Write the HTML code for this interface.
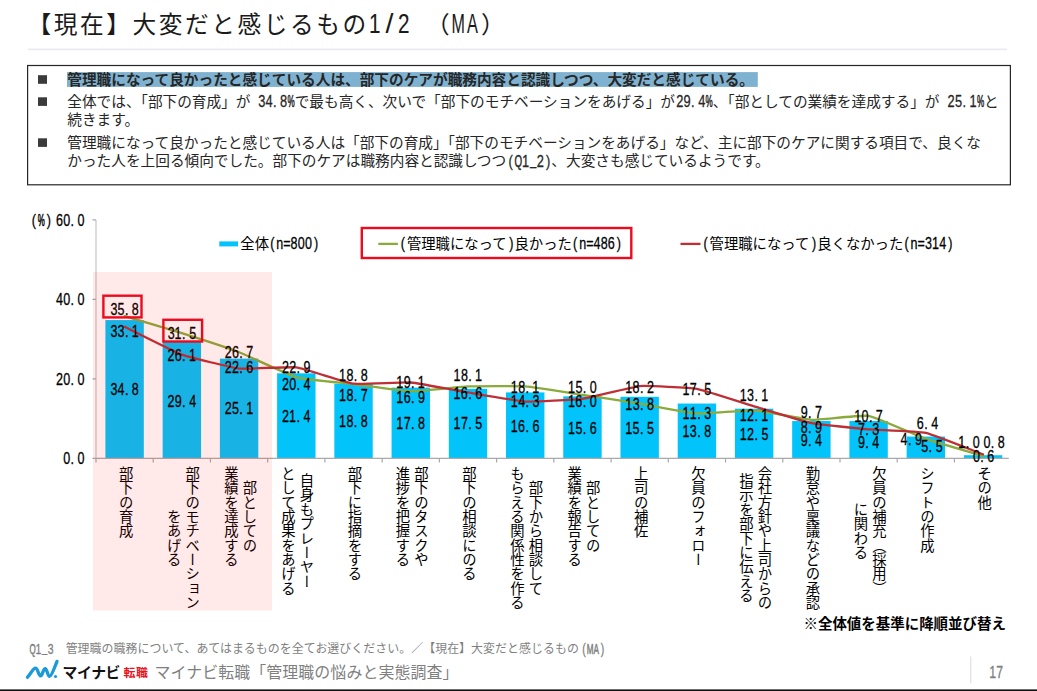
<!DOCTYPE html>
<html lang="ja"><head><meta charset="utf-8"><title>【現在】大変だと感じるもの1/2 (MA)</title>
<style>
html,body{margin:0;padding:0;background:#fff;}
body{width:1037px;height:691px;overflow:hidden;font-family:"Liberation Sans",sans-serif;}
svg{display:block;font-family:"Liberation Sans",sans-serif;}
text{white-space:pre;vector-effect:non-scaling-stroke;stroke-linejoin:round;}
.j{font-family:"Liberation Sans","Noto Sans CJK JP",sans-serif;}
.v{font-family:"Liberation Sans","Noto Sans CJK JP",sans-serif;writing-mode:vertical-rl;font-size:14.35px;fill:#000;}
</style></head><body>
<svg width="1037" height="691" viewBox="0 0 1037 691">
<g id="slide-title"><title>【現在】大変だと感じるもの1/2 （MA）</title>
<g>
<text transform="translate(368.92 33.21) scale(0.76 1)" font-size="27.25" fill="#1a1a1a" stroke="#1a1a1a" stroke-width="0.08" x="0">1</text>
<text transform="translate(385.42 33.21) scale(1.05 1)" font-size="27.25" fill="#1a1a1a" stroke="#1a1a1a" stroke-width="0.05" x="0">/</text>
<text transform="translate(398.06 33.21) scale(0.76 1)" font-size="27.25" fill="#1a1a1a" stroke="#1a1a1a" stroke-width="0.08" x="0">2</text>
<text class="j" x="27.4" y="32.5" font-size="23.7" letter-spacing="2.58" fill="#1a1a1a">【現在】大変だと感じるもの</text>
</g>
<g>
<text transform="translate(451.4 33.21) scale(0.59 1)" font-size="27.25" fill="#1a1a1a" stroke="#1a1a1a" stroke-width="0.08" x="0">M</text>
<text transform="translate(467.11 33.21) scale(0.6 1)" font-size="27.25" fill="#1a1a1a" stroke="#1a1a1a" stroke-width="0.08" x="0">A</text>
<text class="j" x="425.9" y="32.5" font-size="23.7" fill="#1a1a1a">（</text>
<text class="j" x="481.04" y="32.5" font-size="23.7" fill="#1a1a1a">）</text>
</g>
</g>
<rect x="28" y="48.6" width="979" height="1.6" fill="#e9e9ef"/>
<rect x="27.6" y="65.5" width="982.8" height="119.3" fill="#fff" stroke="#262626" stroke-width="1.2"/>
<rect x="67" y="72.1" width="690.8" height="14.8" fill="#7fb2d0"/>
<g><title>管理職になって良かったと感じている人は、部下のケアが職務内容と認識しつつ、大変だと感じている。</title>
<text class="j" x="67.3" y="85" font-size="14.67" font-weight="bold" fill="#262626">管理職になって良かったと感じている人は、部下のケアが職務内容と認識しつつ、大変だと感じている。</text>
</g>
<g><title>全体では、「部下の育成」が34.8%で最も高く、次いで「部下のモチベーションをあげる」が29.4%、「部としての業績を達成する」が25.1%と</title>
<text transform="translate(258.15 107.24) scale(0.76 1)" font-size="16.87" fill="#262626" stroke="#262626" stroke-width="0.26" x="0 9.66 19.51 28.9">34.8</text>
<text transform="translate(287.39 107.24) scale(0.48 1)" font-size="16.87" fill="#262626" stroke="#262626" stroke-width="0.44" x="0">%</text>
<text transform="translate(676.21 107.24) scale(0.76 1)" font-size="16.87" fill="#262626" stroke="#262626" stroke-width="0.26" x="0 9.66 19.56 29.01">29.4</text>
<text transform="translate(705.48 107.24) scale(0.48 1)" font-size="16.87" fill="#262626" stroke="#262626" stroke-width="0.44" x="0">%</text>
<text transform="translate(947.6 107.24) scale(0.76 1)" font-size="16.87" fill="#262626" stroke="#262626" stroke-width="0.26" x="0 9.67 19.56 28.72">25.1</text>
<text transform="translate(976.88 107.24) scale(0.48 1)" font-size="16.87" fill="#262626" stroke="#262626" stroke-width="0.44" x="0">%</text>
<text class="j" x="67.3" y="106.8" font-size="14.67" fill="#262626">全体では、「部下の育成」が</text>
<text class="j" x="294.67" y="106.8" font-size="14.67" fill="#262626">で最も高く、次いで「部下のモチベーションをあげる」が</text>
<text class="j" x="712.73" y="106.8" font-size="14.67" fill="#262626">、「部としての業績を達成する」が</text>
<text class="j" x="984.1" y="106.8" font-size="14.67" fill="#262626">と</text>
</g>
<g><title>続きます。</title>
<text class="j" x="67.3" y="125.2" font-size="14.67" fill="#262626">続きます。</text>
</g>
<g><title>管理職になって良かったと感じている人は「部下の育成」「部下のモチベーションをあげる」など、主に部下のケアに関する項目で、良くな</title>
<text class="j" x="67.3" y="148.1" font-size="14.67" fill="#262626">管理職になって良かったと感じている人は「部下の育成」「部下のモチベーションをあげる」など、主に部下のケアに関する項目で、良くな</text>
</g>
<g><title>かった人を上回る傾向でした。部下のケアは職務内容と認識しつつ(Q1_2)、大変さも感じているようです。</title>
<text transform="translate(508.57 166.84) scale(0.76 1)" font-size="16.87" fill="#262626" stroke="#262626" stroke-width="0.26" x="0">(</text>
<text transform="translate(514.6 166.84) scale(0.58 1)" font-size="16.87" fill="#262626" stroke="#262626" stroke-width="0.44" x="0">Q</text>
<text transform="translate(522 166.84) scale(0.76 1)" font-size="16.87" fill="#262626" stroke="#262626" stroke-width="0.26" x="0">1</text>
<text transform="translate(529.91 166.84) scale(0.68 1)" font-size="16.87" fill="#262626" stroke="#262626" stroke-width="0.26" x="0" y="-1.91">_</text>
<text transform="translate(536.84 166.84) scale(0.76 1)" font-size="16.87" fill="#262626" stroke="#262626" stroke-width="0.26" x="0 12.01">2)</text>
<text class="j" x="67.3" y="166.4" font-size="14.67" fill="#262626">かった人を上回る傾向でした。部下のケアは職務内容と認識しつつ</text>
<text class="j" x="551.37" y="166.4" font-size="14.67" fill="#262626">、大変さも感じているようです。</text>
</g>
<rect x="38" y="75.2" width="9" height="8.6" fill="#3b3b3b"/>
<rect x="38" y="97.3" width="9" height="8.6" fill="#3b3b3b"/>
<rect x="38" y="138.3" width="9" height="8.6" fill="#3b3b3b"/>
<g fill="#03c4fa">
<rect x="105.41" y="320.07" width="38.4" height="138.33"/>
<rect x="162.65" y="341.53" width="38.4" height="116.87"/>
<rect x="219.88" y="358.63" width="38.4" height="99.77"/>
<rect x="277.1" y="373.33" width="38.4" height="85.06"/>
<rect x="334.33" y="383.67" width="38.4" height="74.73"/>
<rect x="391.56" y="387.64" width="38.4" height="70.75"/>
<rect x="448.8" y="388.84" width="38.4" height="69.56"/>
<rect x="506.02" y="392.41" width="38.4" height="65.99"/>
<rect x="563.25" y="396.39" width="38.4" height="62.01"/>
<rect x="620.48" y="396.79" width="38.4" height="61.61"/>
<rect x="677.71" y="403.54" width="38.4" height="54.86"/>
<rect x="734.94" y="408.71" width="38.4" height="49.69"/>
<rect x="792.17" y="421.03" width="38.4" height="37.37"/>
<rect x="849.4" y="421.03" width="38.4" height="37.37"/>
<rect x="906.63" y="436.54" width="38.4" height="21.86"/>
<rect x="963.86" y="455.22" width="38.4" height="3.18"/>
</g>
<g stroke="#a9a9a9" stroke-width="1.2" fill="none">
<path d="M96 219.9V458.4" stroke="#c4c4c4"/>
<path d="M96 458.4H1008.8"/>
<path d="M92.4 458.4h3.6M92.4 378.9h3.6M92.4 299.4h3.6M92.4 219.9h3.6M96 458.4v4.2M153.23 458.4v4.2M210.46 458.4v4.2M267.69 458.4v4.2M324.92 458.4v4.2M382.15 458.4v4.2M439.38 458.4v4.2M496.61 458.4v4.2M553.84 458.4v4.2M611.07 458.4v4.2M668.3 458.4v4.2M725.53 458.4v4.2M782.76 458.4v4.2M839.99 458.4v4.2M897.22 458.4v4.2M954.45 458.4v4.2"/>
</g>
<path d="M124.61 316.1C127.95 317.09 175.17 331.08 181.84 333.19C188.52 335.3 232.4 349.69 239.07 352.27C245.75 354.84 289.63 375.45 296.3 377.31C302.98 379.17 346.86 383.26 353.53 384.07C360.21 384.88 404.09 391.08 410.76 391.22C417.44 391.36 461.32 386.73 468 386.45C474.67 386.17 518.55 385.97 525.22 386.45C531.9 386.94 575.78 393.8 582.45 394.8C589.13 395.8 633.01 402.46 639.68 403.54C646.36 404.63 690.24 413.09 696.91 413.48C703.59 413.88 747.47 409.93 754.14 410.3C760.82 410.67 804.7 419.52 811.38 419.84C818.05 420.17 861.93 414.75 868.6 415.87C875.28 416.98 919.16 436.58 925.83 438.92C932.51 441.26 979.73 455.02 983.06 456.01" fill="none" stroke="#8aab3c" stroke-width="2.3" stroke-linecap="round"/>
<path d="M124.61 326.83C127.95 328.45 175.17 352.22 181.84 354.65C188.52 357.09 232.4 367.82 239.07 368.56C245.75 369.31 289.63 366.49 296.3 367.37C302.98 368.25 346.86 382.79 353.53 383.67C360.21 384.55 404.09 381.97 410.76 382.48C417.44 382.99 461.32 391.3 468 392.41C474.67 393.53 518.55 401.19 525.22 401.56C531.9 401.93 575.78 399.68 582.45 398.77C589.13 397.87 633.01 386.63 639.68 386.05C646.36 385.48 690.24 387.65 696.91 388.84C703.59 390.02 747.47 404.33 754.14 406.33C760.82 408.32 804.7 421.68 811.38 423.02C818.05 424.37 861.93 428.8 868.6 429.38C875.28 429.96 919.16 431.5 925.83 432.96C932.51 434.42 979.73 453.17 983.06 454.42" fill="none" stroke="#be2f35" stroke-width="2.3" stroke-linecap="round"/>
<g font-family="'Liberation Sans',sans-serif">
<text transform="translate(110.4 395.28) scale(0.76 1)" font-size="16.5" fill="#000" stroke="#000" stroke-width="0.26" x="0 9.44 19.08 28.27">34.8</text>
<text transform="translate(110.4 315.48) scale(0.76 1)" font-size="16.5" fill="#000" stroke="#000" stroke-width="0.26" x="0 9.41 19.08 28.27">35.8</text>
<text transform="translate(110.4 337.48) scale(0.76 1)" font-size="16.5" fill="#000" stroke="#000" stroke-width="0.26" x="0 9.44 19.08 28.05">33.1</text>
<text transform="translate(167.59 406.88) scale(0.76 1)" font-size="16.5" fill="#000" stroke="#000" stroke-width="0.26" x="0 9.44 19.13 28.37">29.4</text>
<text transform="translate(167.63 339.48) scale(0.76 1)" font-size="16.5" fill="#000" stroke="#000" stroke-width="0.26" x="0 9.17 19.08 28.29">31.5</text>
<text transform="translate(167.59 361.38) scale(0.76 1)" font-size="16.5" fill="#000" stroke="#000" stroke-width="0.26" x="0 9.38 19.13 28.1">26.1</text>
<text transform="translate(224.82 414.38) scale(0.76 1)" font-size="16.5" fill="#000" stroke="#000" stroke-width="0.26" x="0 9.46 19.13 28.1">25.1</text>
<text transform="translate(224.82 358.08) scale(0.76 1)" font-size="16.5" fill="#000" stroke="#000" stroke-width="0.26" x="0 9.38 19.13 28.31">26.7</text>
<text transform="translate(224.82 372.68) scale(0.76 1)" font-size="16.5" fill="#000" stroke="#000" stroke-width="0.26" x="0 9.44 19.13 28.27">22.6</text>
<text transform="translate(282.05 422.38) scale(0.76 1)" font-size="16.5" fill="#000" stroke="#000" stroke-width="0.26" x="0 9.22 19.13 28.37">21.4</text>
<text transform="translate(282.05 389.78) scale(0.76 1)" font-size="16.5" fill="#000" stroke="#000" stroke-width="0.26" x="0 9.44 19.13 28.37">20.4</text>
<text transform="translate(282.05 372.98) scale(0.76 1)" font-size="16.5" fill="#000" stroke="#000" stroke-width="0.26" x="0 9.44 19.13 28.33">22.9</text>
<text transform="translate(339.11 427.38) scale(0.76 1)" font-size="16.5" fill="#000" stroke="#000" stroke-width="0.26" x="0 9.67 19.36 28.55">18.8</text>
<text transform="translate(339.11 401.08) scale(0.76 1)" font-size="16.5" fill="#000" stroke="#000" stroke-width="0.26" x="0 9.67 19.36 28.54">18.7</text>
<text transform="translate(339.11 380.98) scale(0.76 1)" font-size="16.5" fill="#000" stroke="#000" stroke-width="0.26" x="0 9.67 19.36 28.55">18.8</text>
<text transform="translate(396.34 429.38) scale(0.76 1)" font-size="16.5" fill="#000" stroke="#000" stroke-width="0.26" x="0 9.66 19.36 28.55">17.8</text>
<text transform="translate(396.34 403.08) scale(0.76 1)" font-size="16.5" fill="#000" stroke="#000" stroke-width="0.26" x="0 9.61 19.36 28.55">16.9</text>
<text transform="translate(396.34 387.98) scale(0.76 1)" font-size="16.5" fill="#000" stroke="#000" stroke-width="0.26" x="0 9.67 19.36 28.32">19.1</text>
<text transform="translate(453.57 429.38) scale(0.76 1)" font-size="16.5" fill="#000" stroke="#000" stroke-width="0.26" x="0 9.66 19.36 28.56">17.5</text>
<text transform="translate(453.57 380.98) scale(0.76 1)" font-size="16.5" fill="#000" stroke="#000" stroke-width="0.26" x="0 9.67 19.36 28.32">18.1</text>
<text transform="translate(453.57 398.58) scale(0.76 1)" font-size="16.5" fill="#000" stroke="#000" stroke-width="0.26" x="0 9.61 19.36 28.49">16.6</text>
<text transform="translate(510.8 432.38) scale(0.76 1)" font-size="16.5" fill="#000" stroke="#000" stroke-width="0.26" x="0 9.61 19.36 28.49">16.6</text>
<text transform="translate(510.8 392.78) scale(0.76 1)" font-size="16.5" fill="#000" stroke="#000" stroke-width="0.26" x="0 9.67 19.36 28.32">18.1</text>
<text transform="translate(510.8 407.28) scale(0.76 1)" font-size="16.5" fill="#000" stroke="#000" stroke-width="0.26" x="0 9.72 19.36 28.6">14.3</text>
<text transform="translate(568.03 433.68) scale(0.76 1)" font-size="16.5" fill="#000" stroke="#000" stroke-width="0.26" x="0 9.68 19.36 28.49">15.6</text>
<text transform="translate(568.03 407.28) scale(0.76 1)" font-size="16.5" fill="#000" stroke="#000" stroke-width="0.26" x="0 9.61 19.36 28.55">16.0</text>
<text transform="translate(568.03 392.78) scale(0.76 1)" font-size="16.5" fill="#000" stroke="#000" stroke-width="0.26" x="0 9.68 19.36 28.55">15.0</text>
<text transform="translate(625.26 433.68) scale(0.76 1)" font-size="16.5" fill="#000" stroke="#000" stroke-width="0.26" x="0 9.68 19.36 28.56">15.5</text>
<text transform="translate(625.26 409.78) scale(0.76 1)" font-size="16.5" fill="#000" stroke="#000" stroke-width="0.26" x="0 9.71 19.36 28.55">13.8</text>
<text transform="translate(625.26 392.78) scale(0.76 1)" font-size="16.5" fill="#000" stroke="#000" stroke-width="0.26" x="0 9.67 19.36 28.55">18.2</text>
<text transform="translate(682.49 437.38) scale(0.76 1)" font-size="16.5" fill="#000" stroke="#000" stroke-width="0.26" x="0 9.71 19.36 28.55">13.8</text>
<text transform="translate(682.49 419.38) scale(0.76 1)" font-size="16.5" fill="#000" stroke="#000" stroke-width="0.26" x="0 9.44 19.36 28.6">11.3</text>
<text transform="translate(682.49 395.28) scale(0.76 1)" font-size="16.5" fill="#000" stroke="#000" stroke-width="0.26" x="0 9.66 19.36 28.56">17.5</text>
<text transform="translate(739.72 439.98) scale(0.76 1)" font-size="16.5" fill="#000" stroke="#000" stroke-width="0.26" x="0 9.67 19.36 28.56">12.5</text>
<text transform="translate(739.72 421.38) scale(0.76 1)" font-size="16.5" fill="#000" stroke="#000" stroke-width="0.26" x="0 9.67 19.36 28.32">12.1</text>
<text transform="translate(739.72 401.28) scale(0.76 1)" font-size="16.5" fill="#000" stroke="#000" stroke-width="0.26" x="0 9.71 19.36 28.32">13.1</text>
<text transform="translate(800.72 446.48) scale(0.76 1)" font-size="16.5" fill="#000" stroke="#000" stroke-width="0.26" x="0 9.69 18.93">9.4</text>
<text transform="translate(800.72 417.78) scale(0.76 1)" font-size="16.5" fill="#000" stroke="#000" stroke-width="0.26" x="0 9.69 18.87">9.7</text>
<text transform="translate(800.71 432.58) scale(0.76 1)" font-size="16.5" fill="#000" stroke="#000" stroke-width="0.26" x="0 9.69 18.89">8.9</text>
<text transform="translate(857.95 447.98) scale(0.76 1)" font-size="16.5" fill="#000" stroke="#000" stroke-width="0.26" x="0 9.69 18.93">9.4</text>
<text transform="translate(854.18 422.28) scale(0.76 1)" font-size="16.5" fill="#000" stroke="#000" stroke-width="0.26" x="0 9.67 19.36 28.54">10.7</text>
<text transform="translate(857.94 434.68) scale(0.76 1)" font-size="16.5" fill="#000" stroke="#000" stroke-width="0.26" x="0 9.7 18.94">7.3</text>
<text transform="translate(921.28 451.78) scale(0.76 1)" font-size="16.5" fill="#000" stroke="#000" stroke-width="0.26" x="0 9.67 18.88">5.5</text>
<text transform="translate(900.61 445.28) scale(0.76 1)" font-size="16.5" fill="#000" stroke="#000" stroke-width="0.26" x="0 9.64 18.83">4.9</text>
<text transform="translate(916.73 428.98) scale(0.76 1)" font-size="16.5" fill="#000" stroke="#000" stroke-width="0.26" x="0 9.75 18.99">6.4</text>
<text transform="translate(983.4 448.18) scale(0.76 1)" font-size="16.5" fill="#000" stroke="#000" stroke-width="0.26" x="0 9.69 18.88">0.8</text>
<text transform="translate(973 462.48) scale(0.76 1)" font-size="16.5" fill="#000" stroke="#000" stroke-width="0.26" x="0 9.69 18.83">0.6</text>
<text transform="translate(958.33 448.48) scale(0.76 1)" font-size="16.5" fill="#000" stroke="#000" stroke-width="0.26" x="0 9.92 19.11">1.0</text>
<text transform="translate(63.17 464.28) scale(0.76 1)" font-size="16.5" fill="#000" stroke="#000" stroke-width="0.26" x="0 9.69 18.88">0.0</text>
<text transform="translate(56 384.78) scale(0.76 1)" font-size="16.5" fill="#000" stroke="#000" stroke-width="0.26" x="0 9.44 19.13 28.32">20.0</text>
<text transform="translate(56.04 305.28) scale(0.76 1)" font-size="16.5" fill="#000" stroke="#000" stroke-width="0.26" x="0 9.39 19.08 28.27">40.0</text>
<text transform="translate(55.96 225.78) scale(0.76 1)" font-size="16.5" fill="#000" stroke="#000" stroke-width="0.26" x="0 9.5 19.19 28.38">60.0</text>
<text transform="translate(31.75 225.78) scale(0.76 1)" font-size="16.5" fill="#000" stroke="#000" stroke-width="0.26" x="0">(</text>
<text transform="translate(37.81 225.78) scale(0.48 1)" font-size="16.5" fill="#000" stroke="#000" stroke-width="0.44" x="0">%</text>
<text transform="translate(46.8 225.78) scale(0.76 1)" font-size="16.5" fill="#000" stroke="#000" stroke-width="0.26" x="0">)</text>
</g>
<g><title>部下の育成</title>
<text class="v" x="124.62" y="466.3">部下の育成</text>
</g>
<g><title>部下のモチベーションをあげる</title>
<text class="v" x="191.1" y="466.3">部下のモチベーション</text>
<text class="v" x="172.6" y="509.4">をあげる</text>
</g>
<g><title>部としての業績を達成する</title>
<text class="v" x="248.33" y="480.7">部としての</text>
<text class="v" x="229.83" y="466.3">業績を達成する</text>
</g>
<g><title>自身もプレーヤーとして成果をあげる</title>
<text class="v" x="305.56" y="473.5">自身もプレーヤー</text>
<text class="v" x="287.06" y="466.3">として成果をあげる</text>
</g>
<g><title>部下に指摘をする</title>
<text class="v" x="353.54" y="466.3">部下に指摘をする</text>
</g>
<g><title>部下のタスクや進捗を把握する</title>
<text class="v" x="420.02" y="466.3">部下のタスクや</text>
<text class="v" x="401.52" y="466.3">進捗を把握する</text>
</g>
<g><title>部下の相談にのる</title>
<text class="v" x="468" y="466.3">部下の相談にのる</text>
</g>
<g><title>部下から相談してもらえる関係性を作る</title>
<text class="v" x="534.48" y="480.7">部下から相談して</text>
<text class="v" x="515.98" y="466.3">もらえる関係性を作る</text>
</g>
<g><title>部としての業績を報告する</title>
<text class="v" x="591.71" y="480.7">部としての</text>
<text class="v" x="573.21" y="466.3">業績を報告する</text>
</g>
<g><title>上司の補佐</title>
<text class="v" x="639.69" y="466.3">上司の補佐</text>
</g>
<g><title>欠員のフォロー</title>
<text class="v" x="696.92" y="466.3">欠員のフォロー</text>
</g>
<g><title>会社方針や上司からの指示を部下に伝える</title>
<text class="v" x="763.4" y="466.3">会社方針や上司からの</text>
<text class="v" x="744.9" y="473.5">指示を部下に伝える</text>
</g>
<g><title>勤怠や稟議などの承認</title>
<text class="v" x="811.38" y="466.3">勤怠や稟議などの承認</text>
</g>
<g><title>欠員の補充（採用）に関わる</title>
<text class="v" x="877.86" y="466.3">欠員の補充（採用）</text>
<text class="v" x="859.36" y="502.2">に関わる</text>
</g>
<g><title>シフトの作成</title>
<text class="v" x="925.84" y="466.3">シフトの作成</text>
</g>
<g><title>その他</title>
<text class="v" x="983.07" y="466.3">その他</text>
</g>
<rect x="93" y="272" width="179" height="338.5" fill="#ff0000" fill-opacity="0.085"/>
<g fill="none" stroke="#ee0a1e" stroke-width="2.4">
<rect x="103.4" y="295.7" width="38.1" height="21.7"/>
<rect x="163.4" y="319.8" width="38.7" height="21.7"/>
<rect x="361.8" y="228" width="269.5" height="30"/>
</g>
<rect x="219.3" y="241.4" width="18.7" height="5" fill="#03c4fa"/>
<g><title>全体(n=800)</title>
<text transform="translate(270.15 249.43) scale(0.76 1)" font-size="16.5" fill="#000" stroke="#000" stroke-width="0.26" x="0 8.05 17.28 26.94 36.39 45.83 57.57">(n=800)</text>
<text class="j" x="240.3" y="249" font-size="14.35" fill="#000">全体</text>
</g>
<path d="M378.3 243.9h19.6" stroke="#8aab3c" stroke-width="2.3"/>
<g><title>(管理職になって)良かった(n=486)</title>
<text transform="translate(400.85 249.43) scale(0.76 1)" font-size="16.5" fill="#000" stroke="#000" stroke-width="0.26" x="0">(</text>
<text transform="translate(509.18 249.43) scale(0.76 1)" font-size="16.5" fill="#000" stroke="#000" stroke-width="0.26" x="0">)</text>
<text transform="translate(573.05 249.43) scale(0.76 1)" font-size="16.5" fill="#000" stroke="#000" stroke-width="0.26" x="0 8.05 17.28 27 36.39 45.77 57.57">(n=486)</text>
<text class="j" x="406.88" y="249" font-size="14.35" fill="#000">管理職になって</text>
<text class="j" x="514.51" y="249" font-size="14.35" fill="#000">良かった</text>
</g>
<path d="M680.5 243.9h20" stroke="#be2f35" stroke-width="2.3"/>
<g><title>(管理職になって)良くなかった(n=314)</title>
<text transform="translate(703.55 249.43) scale(0.76 1)" font-size="16.5" fill="#000" stroke="#000" stroke-width="0.26" x="0">(</text>
<text transform="translate(811.88 249.43) scale(0.76 1)" font-size="16.5" fill="#000" stroke="#000" stroke-width="0.26" x="0">)</text>
<text transform="translate(904.45 249.43) scale(0.76 1)" font-size="16.5" fill="#000" stroke="#000" stroke-width="0.26" x="0 8.05 17.28 26.99 36.16 45.88 57.57">(n=314)</text>
<text class="j" x="709.58" y="249" font-size="14.35" fill="#000">管理職になって</text>
<text class="j" x="817.21" y="249" font-size="14.35" fill="#000">良くなかった</text>
</g>
<g><title>※全体値を基準に降順並び替え</title>
<text class="j" x="803.5" y="628.5" font-size="14.46" font-weight="bold" fill="#000">※全体値を基準に降順並び替え</text>
</g>
<g><title>Q1_3　管理職の職務について、あてはまるものを全てお選びください。／【現在】大変だと感じるもの(MA)</title>
<text transform="translate(29.49 653.76) scale(0.58 1)" font-size="13.74" fill="#7f7f7f" stroke="#7f7f7f" stroke-width="0.44" x="0">Q</text>
<text transform="translate(35.56 653.76) scale(0.76 1)" font-size="13.74" fill="#7f7f7f" stroke="#7f7f7f" stroke-width="0.26" x="0">1</text>
<text transform="translate(42.04 653.76) scale(0.68 1)" font-size="13.74" fill="#7f7f7f" stroke="#7f7f7f" stroke-width="0.26" x="0" y="-1.55">_</text>
<text transform="translate(47.76 653.76) scale(0.76 1)" font-size="13.74" fill="#7f7f7f" stroke="#7f7f7f" stroke-width="0.26" x="0">3</text>
<text transform="translate(582.18 653.76) scale(0.76 1)" font-size="13.74" fill="#7f7f7f" stroke="#7f7f7f" stroke-width="0.26" x="0">(</text>
<text transform="translate(586.84 653.76) scale(0.59 1)" font-size="13.74" fill="#7f7f7f" stroke="#7f7f7f" stroke-width="0.44" x="0">M</text>
<text transform="translate(593.5 653.76) scale(0.6 1)" font-size="13.74" fill="#7f7f7f" stroke="#7f7f7f" stroke-width="0.44" x="0">A</text>
<text transform="translate(600.81 653.76) scale(0.76 1)" font-size="13.74" fill="#7f7f7f" stroke="#7f7f7f" stroke-width="0.26" x="0">)</text>
<text class="j" x="65.65" y="653.4" font-size="11.95" letter-spacing="0.04" fill="#7f7f7f">管理職の職務について、あてはまるものを全てお選びください。／【現在】大変だと感じるもの</text>
</g>
<g><title>マイナビ転職「管理職の悩みと実態調査」</title>
<text class="j" x="154.5" y="677.5" font-size="15.95" letter-spacing="0.08" fill="#7f7f7f">マイナビ転職「管理職の悩みと実態調査」</text>
</g>
<g><title>マイナビ転職</title>
<path d="M27.4 677.2C30.2 674.6 33.2 668.2 35.5 668.2C37.9 668.2 38.4 675.9 40.6 675.9C42.6 675.9 43 668.7 45.1 668.7C47.3 668.7 47.4 676.4 49.6 676.4C51.6 676.4 54.6 667.4 57 661.4" fill="none" stroke="#1c9ad8" stroke-width="3.3" stroke-linecap="round" stroke-linejoin="round"/>
<circle cx="55.5" cy="676.5" r="1.6" fill="#1c9ad8"/>
<text class="j" x="62.6" y="677.5" font-size="14.9" font-weight="bold" letter-spacing="-0.45" fill="#111">マイナビ</text>
<text class="j" x="123.5" y="677" font-size="11.9" font-weight="bold" letter-spacing="0.6" fill="#e8141e">転職</text>
</g>
<rect x="970" y="656.4" width="1.4" height="27" fill="#e4e4ec"/>
<g font-family="'Liberation Sans',sans-serif">
<text transform="translate(989.13 678.02) scale(0.76 1)" font-size="16.1" fill="#808080" stroke="#808080" stroke-width="0.26" x="0 9.42">17</text>
</g>
<rect x="0" y="689.4" width="1037" height="1.6" fill="#111"/>
</svg>
</body></html>
